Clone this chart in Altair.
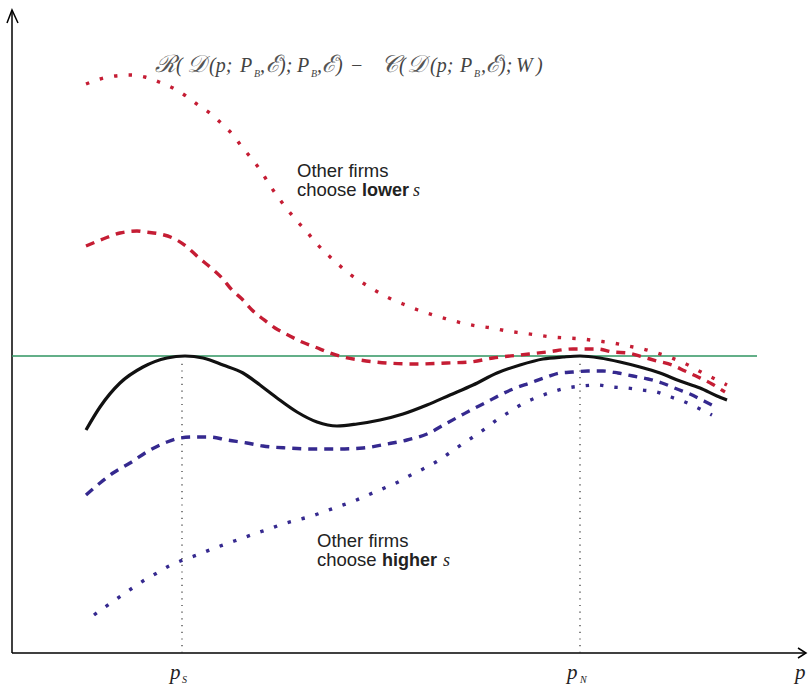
import altair as alt
import pandas as pd

# ---- curve readings (picture column, picture row) ----
black_pts = [(86,430),(100,407),(120,383),(143,367),(167,358),(185,356),(203,358),(223,365),(243,373),
             (260,385),(277,398),(297,412),(317,422),(337,426),(357,424),(380,420),(403,414),(427,405),
             (450,395),(473,385),(497,373),(520,365),(543,359),(563,357),(580,356),(600,358),(620,362),
             (640,367),(660,373),(680,381),(700,388),(717,396),(727,400)]
red_dash_pts = [(86,246),(103,239),(120,233),(137,231),(145,232),(160,234),(175,239),(187,247),(198,257),
                (210,267),(222,278),(232,290),(242,299),(252,310),(263,319),(275,328),(288,335),(302,342),
                (315,347),(330,353),(343,357),(360,360),(387,363),(417,364),(447,363),(470,362),(493,358),
                (520,355),(547,352),(573,349),(597,349),(613,352),(628,353),(643,357),(657,361),(672,365),
                (685,371),(698,377),(712,384),(725,392)]
red_dot_pts = [(86,84),(100,79),(115,76),(130,75),(145,77),(159,82),(173,88),(186,96),(198,105),(211,114),
               (222,124),(233,135),(242,147),(252,159),(261,171),(269,184),(278,197),(287,209),(297,221),
               (307,232),(317,244),(328,255),(339,265),(351,275),(363,283),(376,291),(389,298),(403,304),
               (418,310),(433,315),(447,319),(462,323),(477,326),(492,328),(507,331),(522,333),(537,335),
               (552,337),(567,338),(582,339),(598,341),(613,343),(628,346),(643,349),(657,353),(672,358),
               (686,364),(699,371),(713,378),(727,385)]
blue_dash_pts = [(86,495),(100,483),(113,473),(130,463),(150,450),(167,442),(180,438),(193,437),(210,437),
                 (227,440),(247,443),(263,446),(287,448),(313,449),(337,449),(363,448),(387,444),(407,440),
                 (427,434),(447,423),(460,416),(473,409),(487,402),(500,395),(513,389),(530,383),(547,377),
                 (560,373),(573,372),(588,371),(603,371),(618,373),(633,376),(648,379),(662,383),(677,389),
                 (690,394),(704,401),(718,408)]
blue_dot_pts = [(94,615),(105,607),(118,598),(131,589),(143,581),(157,573),(169,566),(183,560),(197,555),
                (212,549),(226,544),(240,539),(254,534),(269,529),(283,524),(297,520),(312,516),(326,511),
                (340,506),(354,501),(368,495),(382,489),(396,483),(409,476),(423,469),(436,462),(448,454),
                (461,445),(473,437),(486,428),(498,419),(511,411),(524,403),(538,397),(552,392),(567,388),
                (582,386),(597,385),(612,387),(627,388),(642,390),(657,392),(671,397),(685,402),(698,408),
                (712,415)]

# reference level and the two optima (picture units)
zero_level_row = 356
zero_level_end = 757
p_s_col = 182
p_n_col = 580

ORIGIN_X, ORIGIN_Y = 12, 653


def to_df(pts):
    return pd.DataFrame({"x": [c - ORIGIN_X for c, r in pts],
                         "y": [ORIGIN_Y - r for c, r in pts],
                         "o": list(range(len(pts)))})


xs = alt.Scale(domain=[-12, 797], nice=False, zero=False)
ys = alt.Scale(domain=[-31, 653], nice=False, zero=False)
X = lambda f="x": alt.X(f"{f}:Q", scale=xs, axis=None)
Y = lambda f="y": alt.Y(f"{f}:Q", scale=ys, axis=None)

RED = "#c51d34"
BLUE = "#35298f"
GREEN = "#2f9461"


def curve(pts, color, dash=None, width=3.2):
    kw = dict(color=color, strokeWidth=width, interpolate="monotone", strokeCap="butt")
    if dash:
        kw["strokeDash"] = dash
    return alt.Chart(to_df(pts)).mark_line(**kw).encode(x=X(), y=Y(), order="o:Q")


layers = []

# axes with arrow heads
axes_df = pd.DataFrame({
    "x": [0, 0, 794, 0, -5, 0, 6, 786, 794, 786],
    "y": [641, 0, 0, 0, 630, 643, 630, 5, 0, -5],
    "g": ["yaxis", "yaxis", "xaxis", "xaxis", "yh", "yh", "yh", "xh", "xh", "xh"],
    "o": [0, 1, 1, 0, 0, 1, 2, 0, 1, 2],
})
layers.append(alt.Chart(axes_df).mark_line(color="black", strokeWidth=1.5).encode(
    x=X(), y=Y(), detail="g:N", order="o:Q"))

# zero level
lvl = pd.DataFrame({"x": [0], "x2": [zero_level_end - ORIGIN_X], "y": [ORIGIN_Y - zero_level_row]})
layers.append(alt.Chart(lvl).mark_rule(color=GREEN, strokeWidth=1.6).encode(
    x=X(), x2="x2:Q", y=Y()))

# vertical dotted guides
guides = pd.DataFrame({"x": [p_s_col - ORIGIN_X, p_n_col - ORIGIN_X], "y": [0, 0],
                       "y2": [ORIGIN_Y - 362, ORIGIN_Y - 362]})
layers.append(alt.Chart(guides).mark_rule(color="#333", strokeWidth=1.2, strokeDash=[1.2, 5.5]).encode(
    x=X(), y=Y(), y2="y2:Q"))

layers += [
    curve(red_dot_pts, RED, [3.4, 11.2], 3.4),
    curve(red_dash_pts, RED, [9, 7], 3.4),
    curve(blue_dash_pts, BLUE, [9, 7], 3.4),
    curve(blue_dot_pts, BLUE, [3.4, 11], 3.4),
    curve(black_pts, "#111111", None, 3.2),
]

# ---- text ----
def txt(rows, **kw):
    df = pd.DataFrame(rows, columns=["x", "y", "t"])
    df["x"] = df["x"] - ORIGIN_X
    df["y"] = ORIGIN_Y - df["y"]
    base = dict(align="left", baseline="alphabetic")
    base.update(kw)
    return alt.Chart(df).mark_text(**base).encode(x=X(), y=Y(), text="t:N")

FB = 72  # formula baseline row
formula_script = [(155, FB, "ℛ"), (187, FB, "𝒟"), (266, FB, "ℰ"), (322, FB, "ℰ"),
                  (381, FB, "𝒞"), (407, FB, "𝒟"), (486, FB, "ℰ")]
formula_main = [(176, FB, "("), (209, FB, "(p;"), (240, FB, "P"), (260, FB, ","), (279, FB, ");"),
                (297, FB, "P"), (317, FB, ","), (336, FB, ")"), (350, FB, "−"), (399, FB, "("),
                (430, FB, "(p;"), (460, FB, "P"), (481, FB, ","), (499, FB, ");"), (516, FB, "W"),
                (536, FB, ")")]
formula_sub = [(254, 77, "B"), (311, 77, "B"), (474, 77, "B")]
layers.append(txt(formula_script, font="DejaVu Serif", fontStyle="italic", fontSize=24, color="#555"))
layers.append(txt(formula_main, font="Liberation Serif", fontStyle="italic", fontSize=20, color="#444"))
layers.append(txt(formula_sub, font="Liberation Serif", fontStyle="italic", fontSize=10, color="#444"))

label_plain = [(297, 177, "Other firms"), (297, 196, "choose"), (317, 547, "Other firms"), (317, 566, "choose")]
label_bold = [(362, 196, "lower"), (382, 566, "higher")]
label_s = [(413, 196, "s"), (443, 566, "s")]
layers.append(txt(label_plain, font="Liberation Sans", fontSize=18.5, color="#222"))
layers.append(txt(label_bold, font="Liberation Sans", fontSize=18, fontWeight="bold", color="#222"))
layers.append(txt(label_s, font="Liberation Serif", fontStyle="italic", fontSize=18, color="#222"))

axis_p = [(170, 679, "p"), (567, 679, "p"), (795, 679, "p")]
axis_sub = [(182, 683, "S"), (580, 683, "N")]
layers.append(txt(axis_p, font="Liberation Serif", fontStyle="italic", fontSize=21, color="#222"))
layers.append(txt(axis_sub, font="Liberation Serif", fontStyle="italic", fontSize=10, color="#222"))

chart = alt.layer(*layers).properties(
    width=809, height=684, padding=0, autosize=alt.AutoSizeParams(type="none"),
    background="white",
).configure_view(stroke=None)

chart.save("out.html", embed_options={"renderer": "svg", "actions": False})
